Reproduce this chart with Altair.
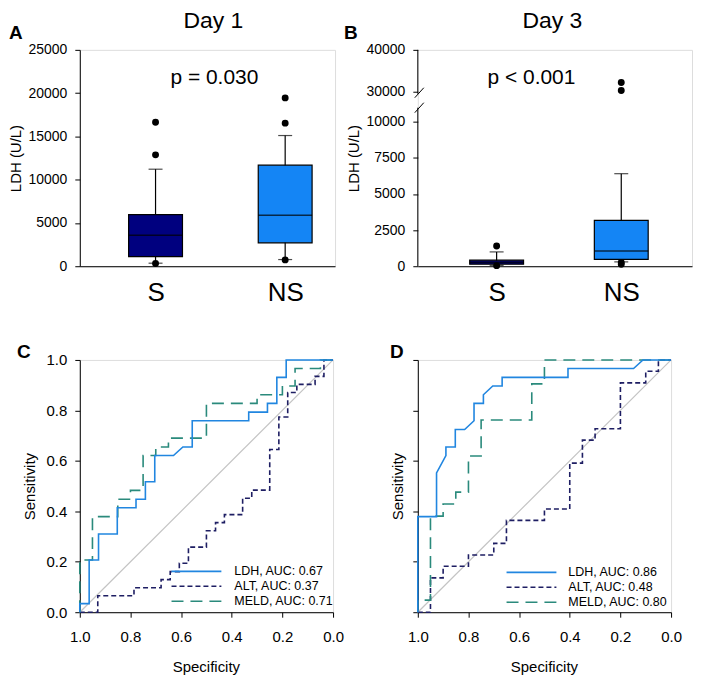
import altair as alt
import pandas as pd

FONT = "Liberation Sans"

# ---------------- data: box plots ----------------
groups = ["S", "NS"]
box_colors = ["#00007F", "#1485F5"]

day1_low = [350, 770]
day1_q1 = [1120, 2700]
day1_median = [3580, 5890]
day1_q3 = [5970, 11670]
day1_high = [11210, 15100]
day1_out_group = ["S", "S", "S", "NS", "NS", "NS"]
day1_out_value = [16640, 12870, 310, 19450, 16530, 730]

day3_low = [60, 300]
day3_q1 = [140, 480]
day3_median = [280, 1060]
day3_q3 = [420, 3170]
day3_high = [990, 6400]
day3_out_group = ["S", "S", "NS", "NS", "NS", "NS"]
day3_out_value = [1400, 40, 32200, 30300, 260, 130]

day1_ticks = [0, 5000, 10000, 15000, 20000, 25000]
day3_ticks = [0, 2500, 5000, 7500, 10000, 30000, 40000]
day3_domain = [0, 10000, 30000, 40000]

panel_titles = ["Day 1", "Day 3"]
p_texts = ["p = 0.030", "p < 0.001"]
letters = ["A", "B", "C", "D"]
box_ytitle = "LDH (U/L)"

# ---------------- data: ROC curves ----------------
roc_ticks = [0.0, 0.2, 0.4, 0.6, 0.8, 1.0]
chance_spec = [1.0, 0.0]
chance_sens = [0.0, 1.0]

ldh_c_spec = [1.0, 1.0, 0.963, 0.963, 0.926, 0.926, 0.852, 0.852, 0.778, 0.778, 0.741, 0.741,
              0.704, 0.704, 0.630, 0.593, 0.556, 0.556, 0.333, 0.333, 0.259, 0.259, 0.222, 0.222,
              0.185, 0.185, 0.0]
ldh_c_sens = [0.0, 0.034, 0.034, 0.207, 0.207, 0.310, 0.310, 0.414, 0.414, 0.448, 0.448, 0.517,
              0.517, 0.621, 0.621, 0.655, 0.655, 0.759, 0.759, 0.793, 0.793, 0.828, 0.828, 0.931,
              0.931, 1.0, 1.0]
alt_c_spec = [1.0, 0.929, 0.929, 0.786, 0.786, 0.679, 0.679, 0.643, 0.643, 0.607, 0.607, 0.571,
              0.571, 0.5, 0.5, 0.464, 0.464, 0.429, 0.429, 0.357, 0.357, 0.321, 0.321, 0.25, 0.25,
              0.214, 0.214, 0.179, 0.179, 0.143, 0.143, 0.071, 0.071, 0.036, 0.036, 0.0]
alt_c_sens = [0.0, 0.0, 0.065, 0.065, 0.097, 0.097, 0.129, 0.129, 0.161, 0.161, 0.194, 0.194,
              0.258, 0.258, 0.323, 0.323, 0.355, 0.355, 0.387, 0.387, 0.452, 0.452, 0.484, 0.484,
              0.645, 0.645, 0.774, 0.774, 0.871, 0.871, 0.903, 0.903, 0.935, 0.935, 1.0, 1.0]
meld_c_spec = [1.0, 1.0, 0.95, 0.95, 0.85, 0.85, 0.80, 0.80, 0.75, 0.75, 0.70, 0.70, 0.65, 0.65,
               0.50, 0.50, 0.30, 0.30, 0.20, 0.20, 0.15, 0.15, 0.05, 0.05, 0.0]
meld_c_sens = [0.0, 0.207, 0.207, 0.379, 0.379, 0.448, 0.448, 0.483, 0.483, 0.621, 0.621, 0.655,
               0.655, 0.690, 0.690, 0.828, 0.828, 0.862, 0.862, 0.897, 0.897, 0.966, 0.966, 1.0, 1.0]

ldh_d_spec = [1.0, 1.0, 0.926, 0.926, 0.889, 0.889, 0.852, 0.852, 0.815, 0.778, 0.778, 0.741,
              0.741, 0.704, 0.667, 0.667, 0.407, 0.407, 0.148, 0.111, 0.0]
ldh_d_sens = [0.0, 0.379, 0.379, 0.552, 0.621, 0.655, 0.655, 0.724, 0.724, 0.759, 0.828, 0.828,
              0.862, 0.897, 0.897, 0.931, 0.931, 0.966, 0.966, 1.0, 1.0]
alt_d_spec = [1.0, 0.95, 0.95, 0.90, 0.90, 0.80, 0.80, 0.70, 0.70, 0.65, 0.65, 0.50, 0.50, 0.40,
              0.40, 0.35, 0.35, 0.30, 0.30, 0.20, 0.20, 0.10, 0.10, 0.05, 0.05, 0.0]
alt_d_sens = [0.0, 0.0, 0.136, 0.136, 0.182, 0.182, 0.227, 0.227, 0.273, 0.273, 0.364, 0.364,
              0.409, 0.409, 0.591, 0.591, 0.682, 0.682, 0.727, 0.727, 0.909, 0.909, 0.955, 0.955,
              1.0, 1.0]
meld_d_spec = [1.0, 1.0, 0.95, 0.95, 0.90, 0.90, 0.85, 0.85, 0.80, 0.80, 0.75, 0.75, 0.55, 0.55,
               0.50, 0.50, 0.0]
meld_d_sens = [0.0, 0.048, 0.048, 0.381, 0.381, 0.429, 0.429, 0.476, 0.476, 0.619, 0.619, 0.762,
               0.762, 0.905, 0.905, 1.0, 1.0]

series_names = ["LDH", "ALT", "MELD"]
legend_c = ["LDH, AUC: 0.67", "ALT, AUC: 0.37", "MELD, AUC: 0.71"]
legend_d = ["LDH, AUC: 0.86", "ALT, AUC: 0.48", "MELD, AUC: 0.80"]

# ---------------- styles ----------------
series_color = {"LDH": "#2186E0", "ALT": "#1E1E63", "MELD": "#2A8A7C"}
series_dash = {"LDH": None, "ALT": [5, 3], "MELD": [12, 7]}


def text_layer(txt, x, y, size, weight="normal", align="left", baseline="alphabetic"):
    return alt.Chart(pd.DataFrame({"t": [txt]})).mark_text(
        align=align, baseline=baseline, fontSize=size, fontWeight=weight, font=FONT, color="black"
    ).encode(text="t:N", x=alt.value(x), y=alt.value(y))


def box_panel(width, height, low, q1, med, q3, high, og, ov, yscale, yaxis, xscale,
              title, ptext, letter, title_x, p_x, letter_x, extra=None):
    df = pd.DataFrame({"group": groups, "low": low, "q1": q1, "median": med,
                       "q3": q3, "high": high})
    xenc = alt.X("group:N", sort=groups, scale=xscale,
                 axis=alt.Axis(title=None, ticks=False, tickSize=0, labelAngle=0,
                               labelFontSize=26, labelPadding=13, domainColor="black"))
    base = alt.Chart(df)
    whisk = base.mark_rule(color="black", strokeWidth=1.2).encode(
        x=xenc, y=alt.Y("low:Q", scale=yscale, axis=yaxis), y2="high:Q")
    cap_hi = base.mark_tick(orient="horizontal", size=14, thickness=1.2, color="black").encode(
        x=xenc, y=alt.Y("high:Q", scale=yscale, axis=yaxis))
    cap_lo = base.mark_tick(orient="horizontal", size=14, thickness=1.2, color="black").encode(
        x=xenc, y=alt.Y("low:Q", scale=yscale, axis=yaxis))
    box = base.mark_bar(size=54, stroke="black", strokeWidth=1.2, opacity=1).encode(
        x=xenc, y=alt.Y("q1:Q", scale=yscale, axis=yaxis), y2="q3:Q",
        color=alt.Color("group:N", scale=alt.Scale(domain=groups, range=box_colors), legend=None))
    median = base.mark_tick(orient="horizontal", size=54, thickness=1.5, color="black").encode(
        x=xenc, y=alt.Y("median:Q", scale=yscale, axis=yaxis))
    outs = alt.Chart(pd.DataFrame({"group": og, "value": ov})).mark_circle(
        size=48, color="black", opacity=1).encode(
        x=xenc, y=alt.Y("value:Q", scale=yscale, axis=yaxis))
    layers = [whisk, box, median, cap_hi, cap_lo, outs,
              text_layer(title, title_x, -22, 23, align="center"),
              text_layer(ptext, p_x, 34, 21, align="center"),
              text_layer(letter, letter_x, -11, 19, weight="bold")]
    if extra:
        layers += extra
    return alt.layer(*layers).properties(width=width, height=height)


def y_box_axis(ticks, domain=True):
    return alt.Axis(values=ticks, format="d", title=box_ytitle, titleFontSize=15,
                    labelFontSize=14, tickSize=5, labelPadding=8, domain=domain,
                    titleX=-64, titleY=108.5, titleBaseline="middle", titleAngle=-90)


# Panel A
panel_a = box_panel(
    256, 217, day1_low, day1_q1, day1_median, day1_q3, day1_high,
    day1_out_group, day1_out_value,
    alt.Scale(domain=[0, 25000], nice=False, zero=False),
    y_box_axis(day1_ticks),
    alt.Scale(type="point", padding=0.4846, align=0.603),
    panel_titles[0], p_texts[0], letters[0], 134, 135, -71)

# axis break decoration for panel B (pixel offsets inside the plot)
dummy = pd.DataFrame({"k": [0]})
break_layers = [
    alt.Chart(dummy).mark_rule(color="black", strokeWidth=1).encode(
        x=alt.value(0), y=alt.value(0), y2=alt.value(44)),
    alt.Chart(dummy).mark_rule(color="black", strokeWidth=1).encode(
        x=alt.value(0), y=alt.value(58), y2=alt.value(217)),
    alt.Chart(dummy).mark_rule(color="black", strokeWidth=1).encode(
        x=alt.value(-3), x2=alt.value(6), y=alt.value(48), y2=alt.value(38)),
    alt.Chart(dummy).mark_rule(color="black", strokeWidth=1).encode(
        x=alt.value(-3), x2=alt.value(6), y=alt.value(63), y2=alt.value(53)),
]

panel_b = box_panel(
    275, 217, day3_low, day3_q1, day3_median, day3_q3, day3_high,
    day3_out_group, day3_out_value,
    alt.Scale(domain=day3_domain, range=[217, 72, 42, 0], nice=False, zero=False),
    y_box_axis(day3_ticks, domain=False),
    alt.Scale(type="point", padding=0.6, align=0.527),
    panel_titles[1], p_texts[1], letters[1], 135, 114, -74, extra=break_layers)


def roc_panel(curves, legend_labels, letter, letter_x, show_labels, ytitle_x, leg_x0, leg_x1, leg_tx, leg_y0):
    xenc = alt.X("spec:Q", scale=alt.Scale(domain=[0, 1], reverse=True, nice=False, zero=False),
                 axis=alt.Axis(values=roc_ticks, format=".1f", title="Specificity",
                               titleFontSize=15, labelFontSize=15, tickSize=5, labelPadding=12,
                               titleX=126.5, titleY=54, titleBaseline="middle"))
    yenc = alt.Y("sens:Q", scale=alt.Scale(domain=[0, 1], nice=False, zero=False),
                 axis=alt.Axis(values=roc_ticks, format=".1f", title="Sensitivity",
                               labels=show_labels, titleFontSize=15, labelFontSize=15,
                               tickSize=5, labelPadding=8, titleX=ytitle_x, titleY=126.5,
                               titleBaseline="middle", titleAngle=-90))
    layers = [alt.Chart(pd.DataFrame({"spec": chance_spec, "sens": chance_sens})).mark_line(
        color="#C4C4C4", strokeWidth=1.2).encode(x=xenc, y=yenc)]
    for name in ["ALT", "MELD", "LDH"]:
        spec, sens = curves[name]
        df = pd.DataFrame({"spec": spec, "sens": sens, "i": list(range(len(spec)))})
        kw = dict(color=series_color[name], strokeWidth=1.6)
        if series_dash[name]:
            kw["strokeDash"] = series_dash[name]
        layers.append(alt.Chart(df).mark_line(**kw).encode(x=xenc, y=yenc, order="i:Q"))
    for k, name in enumerate(series_names):
        kw = dict(color=series_color[name], strokeWidth=1.6)
        if series_dash[name]:
            kw["strokeDash"] = series_dash[name]
        yy = leg_y0 + 15 * k
        layers.append(alt.Chart(dummy).mark_rule(**kw).encode(
            x=alt.value(leg_x0), x2=alt.value(leg_x1), y=alt.value(yy)))
        layers.append(text_layer(legend_labels[k], leg_tx, yy, 12.5, baseline="middle"))
    layers.append(text_layer(letter, letter_x, -2, 19, weight="bold"))
    return alt.layer(*layers).properties(width=254, height=253)


panel_c = roc_panel({"LDH": (ldh_c_spec, ldh_c_sens), "ALT": (alt_c_spec, alt_c_sens),
                     "MELD": (meld_c_spec, meld_c_sens)},
                    legend_c, letters[2], -63, True, -50.5, 92, 142, 155, 212)
panel_d = roc_panel({"LDH": (ldh_d_spec, ldh_d_sens), "ALT": (alt_d_spec, alt_d_sens),
                     "MELD": (meld_d_spec, meld_d_sens)},
                    legend_d, letters[3], -28, False, -20, 89, 139, 151, 213)

chart = alt.concat(
    panel_a, panel_b, panel_c, panel_d, columns=2,
    spacing={"row": 94, "column": 83}, bounds="flush"
).resolve_scale(
    x="independent", y="independent"
).properties(
    padding={"left": 0, "top": 0, "right": 0, "bottom": 0}
).configure_view(stroke=None).configure(font=FONT).configure_axis(
    grid=False, labelColor="black", titleColor="black", tickColor="black",
    domainColor="black", labelFont=FONT, titleFont=FONT, titleFontWeight="normal",
    labelFlush=False, labelOverlap=False, domainWidth=1, tickWidth=1)

chart.save("out.html", embed_options={"renderer": "svg", "actions": False})
